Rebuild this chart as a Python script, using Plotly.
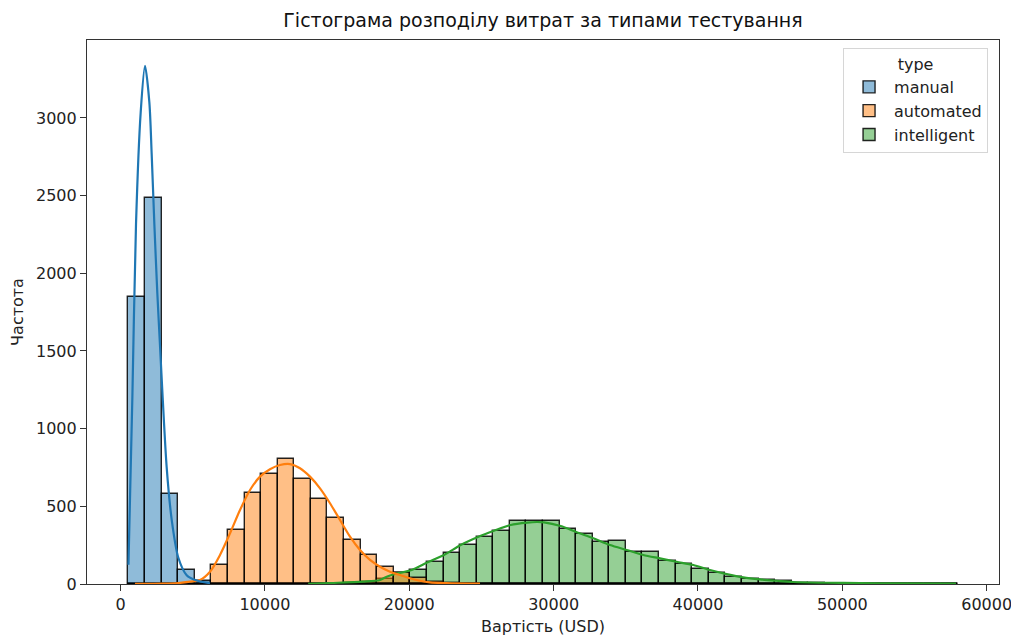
import plotly.graph_objects as go

# ---------------- data ----------------
title_text = "Гістограма розподілу витрат за типами тестування"
x_title = "Вартість (USD)"
y_title = "Частота"
legend_title = "type"
categories = ["manual", "automated", "intelligent"]

bin_start = 550.0
bin_width = 1148.6
n_bins = 50

manual_counts = [1850, 2483, 577, 88, 20] + [0] * 45

automated_counts = ([0, 0, 0, 0, 6, 122, 347, 586, 711, 803, 679, 546, 422, 283,
                     187, 107, 72, 37, 15, 8, 3, 1] + [0] * 28)

intelligent_counts = ([0] * 12 +
                      [1, 4, 12, 30, 72, 90, 144, 198, 250, 304, 343, 405, 405,
                       405, 353, 325, 272, 276, 203, 208, 150, 127, 94, 73, 47,
                       30, 26, 19, 6, 5, 3, 3, 2, 1, 1, 1, 0, 1])

# KDE curves (USD, count scale)
manual_kde_x = [550, 820, 1074, 1397, 1697, 1997, 2159, 2343, 2551, 2736, 2921,
                3198, 3544, 4006, 4583, 5276, 6199]
manual_kde_y = [124, 1199, 2319, 3035, 3335, 3102, 2767, 2319, 1871, 1534, 1199,
                751, 415, 169, 57, 23, 5]

automated_kde_x = [1000, 3000, 4000, 4814, 5507, 6199, 6892, 7585, 8277, 8970,
                   9663, 10355, 11048, 11741, 12433, 13126, 13819, 14511, 15204,
                   15897, 16589, 17282, 17975, 18667, 19360, 20053, 20745, 21438,
                   22595, 24902]
automated_kde_y = [0.5, 2, 6, 15, 26, 79, 187, 326, 476, 605, 691, 739, 766, 772,
                   745, 691, 616, 520, 412, 305, 219, 155, 111, 79, 58, 37, 21,
                   11, 6, 2]

intelligent_kde_x = [13000, 14511, 16797, 17975, 18439, 19013, 20170, 21279,
                     22408, 23565, 24714, 25871, 27028, 28178, 28829, 29335,
                     30491, 31600, 32749, 33906, 35062, 36212, 37369, 38526,
                     39675, 40832, 41989, 43139, 44296, 45453, 46602, 48916,
                     51223, 53508, 57873]
intelligent_kde_y = [0.5, 6, 15, 26, 47, 64, 90, 140, 187, 251, 301, 343, 380,
                     395, 399, 397, 373, 333, 294, 251, 219, 187, 165, 143, 122,
                     90, 64, 43, 30, 21, 13, 8, 6, 4, 2]

base_colors = ["#1f77b4", "#ff7f0e", "#2ca02c"]
fill_colors = ["rgba(31,119,180,0.5)", "rgba(255,127,14,0.5)", "rgba(44,160,44,0.5)"]

# ---------------- figure ----------------
centers = [bin_start + (i + 0.5) * bin_width for i in range(n_bins)]
counts_all = [manual_counts, automated_counts, intelligent_counts]
kde_all = [(manual_kde_x, manual_kde_y), (automated_kde_x, automated_kde_y),
           (intelligent_kde_x, intelligent_kde_y)]

FONT = "DejaVu Sans"
fig = go.Figure()

# seaborn draws the last hue level first
for idx in [2, 1, 0]:
    fig.add_trace(go.Bar(
        x=centers, y=counts_all[idx], width=bin_width,
        name=categories[idx], legendrank=idx + 1,
        marker=dict(color=fill_colors[idx],
                    line=dict(color="rgba(0,0,0,0.85)", width=1.4)),
        hoverinfo="x+y",
    ))

for idx in [2, 1, 0]:
    kx, ky = kde_all[idx]
    fig.add_trace(go.Scatter(
        x=kx, y=ky, mode="lines", line=dict(color=base_colors[idx], width=2.2,
                                           shape="spline", smoothing=0.8),
        showlegend=False, hoverinfo="skip",
    ))

x_lo = bin_start - 0.05 * n_bins * bin_width
x_hi = bin_start + 1.05 * n_bins * bin_width
y_hi = max(manual_kde_y) * 1.05

# the page body has an 8px margin, so the figure is 8px smaller than the window
fig.update_layout(
    width=1011, height=628,
    margin=dict(l=79, r=20, t=32, b=52),
    paper_bgcolor="white", plot_bgcolor="white",
    barmode="overlay", bargap=0,
    font=dict(family=FONT, size=16, color="#222"),
    title=dict(text=title_text, x=0.5, xref="paper", y=1 - 12 / 628,
               yref="container", xanchor="center", yanchor="middle",
               font=dict(family=FONT, size=19, color="#111")),
    showlegend=True,
    legend=dict(
        title=dict(text=legend_title, side="top center",
                   font=dict(family=FONT, size=16)),
        x=0.829, y=0.985, xanchor="left", yanchor="top",
        bgcolor="white", bordercolor="#d6d6d6", borderwidth=1,
        font=dict(family=FONT, size=16), itemwidth=40,
    ),
)

fig.update_xaxes(
    range=[x_lo, x_hi], tickmode="array",
    tickvals=[0, 10000, 20000, 30000, 40000, 50000, 60000],
    ticktext=["0", "10000", "20000", "30000", "40000", "50000", "60000"],
    ticks="outside", ticklen=6, tickwidth=1.2, tickcolor="#333",
    showline=True, linecolor="#333", linewidth=1.2, mirror=True,
    showgrid=False, zeroline=False, automargin=False,
    title=dict(text=x_title, font=dict(family=FONT, size=16)),
    tickfont=dict(family=FONT, size=16),
)
fig.update_yaxes(
    range=[0, y_hi], tickmode="array",
    tickvals=[0, 500, 1000, 1500, 2000, 2500, 3000],
    ticks="outside", ticklen=6, tickwidth=1.2, tickcolor="#333",
    showline=True, linecolor="#333", linewidth=1.2, mirror=True,
    showgrid=False, zeroline=False, automargin=False,
    title=dict(text=y_title, font=dict(family=FONT, size=16)),
    tickfont=dict(family=FONT, size=16),
)

fig.write_html("out.html")
